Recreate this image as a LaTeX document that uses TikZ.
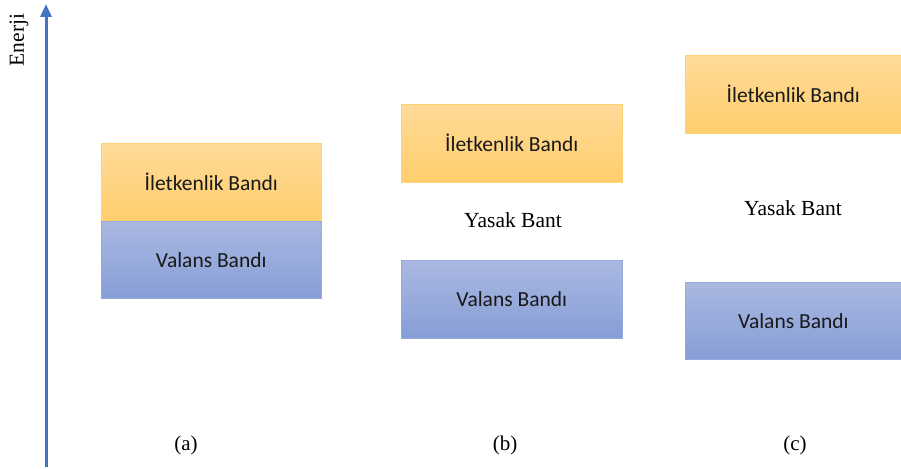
\documentclass[tikz,border=0pt]{standalone}
\usepackage{fontspec}
\setmainfont{Liberation Serif}
\newfontfamily\bandfont{Carlito}
\usetikzlibrary{arrows.meta}
\definecolor{axisblue}{RGB}{68,114,196}
\definecolor{condtop}{RGB}{255,219,153}
\definecolor{condbot}{RGB}{255,206,108}
\definecolor{condedge}{RGB}{255,210,120}
\definecolor{valtop}{RGB}{170,184,225}
\definecolor{valbot}{RGB}{134,158,214}
\definecolor{valedge}{RGB}{150,170,220}
\tikzset{
  bandtext/.style={font=\bandfont\fontsize{21.5}{25}\selectfont, text=black!90},
  condband/.style={bandtext, draw=condedge, line width=0.6pt, top color=condtop, bottom color=condbot, anchor=north west, inner sep=0pt},
  valband/.style={bandtext, draw=valedge, line width=0.6pt, top color=valtop, bottom color=valbot, anchor=north west, inner sep=0pt},
  gaplabel/.style={font=\fontsize{21.5}{25}\selectfont},
  caselabel/.style={font=\fontsize{21}{25}\selectfont},
}
\begin{document}
\begin{tikzpicture}[x=1pt,y=-1pt]
  \useasboundingbox (0,0) rectangle (901,468);

  % energy axis
  \coordinate (axisbot) at (46,467);
  \coordinate (axistop) at (46,4);
  \draw[axisblue, line width=3pt, -{Triangle[length=13pt,width=11pt]}] (axisbot) -- (axistop);
  \node[gaplabel, rotate=90] (enerji) at (19,40) {Enerji};

  % (a) overlapping bands
  \node[condband, minimum width=220pt, minimum height=78pt] (ca) at (101,143) {İletkenlik Bandı};
  \node[valband, minimum width=220pt, minimum height=77pt] (va) at (101,221) {Valans Bandı};
  \node[caselabel] (la) at (186,445) {(a)};

  % (b) narrow gap
  \node[condband, minimum width=221pt, minimum height=78pt] (cb) at (401,104) {İletkenlik Bandı};
  \node[gaplabel] (gb) at (513,220) {Yasak Bant};
  \node[valband, minimum width=221pt, minimum height=78pt] (vb) at (401,260) {Valans Bandı};
  \node[caselabel] (lb) at (505,445) {(b)};

  % (c) wide gap
  \node[condband, minimum width=216pt, minimum height=78pt] (cc) at (685,55) {İletkenlik Bandı};
  \node[gaplabel] (gc) at (793,208) {Yasak Bant};
  \node[valband, minimum width=216pt, minimum height=77pt] (vc) at (685,282) {Valans Bandı};
  \node[caselabel] (lc) at (795,445) {(c)};
\end{tikzpicture}
\end{document}
